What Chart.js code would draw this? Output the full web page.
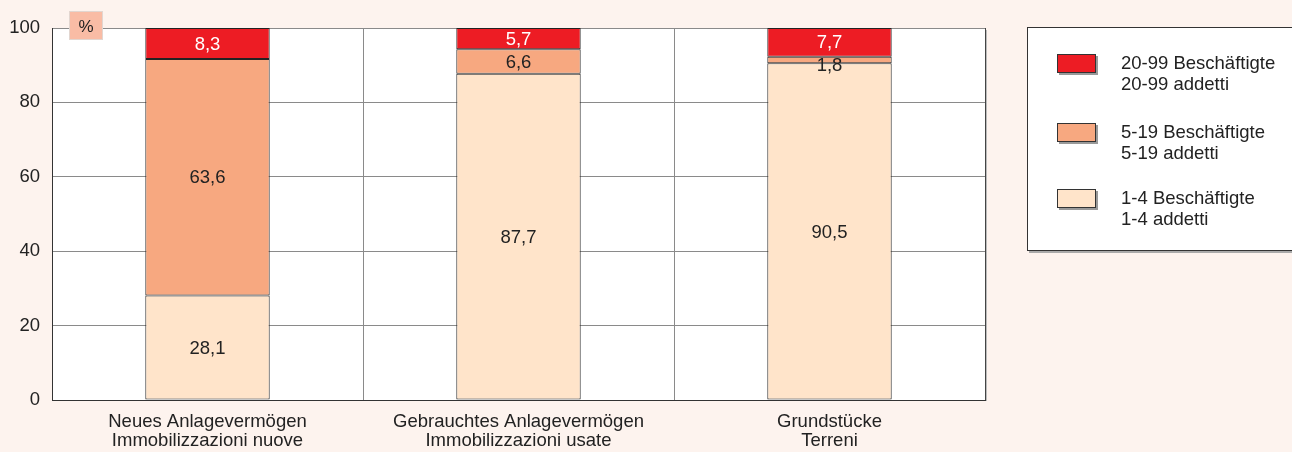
<!DOCTYPE html>
<html>
<head>
<meta charset="utf-8">
<script src="https://cdn.jsdelivr.net/npm/chart.js@4"></script>
<style>
  html, body { margin: 0; padding: 0; background: #fdf3ee; }
  #wrap { width: 1292px; height: 452px; }
</style>
</head>
<body>
<div id="wrap"><canvas id="chart"></canvas></div>
<script>
const categories = [
  ['Neues Anlagevermögen', 'Immobilizzazioni nuove'],
  ['Gebrauchtes Anlagevermögen', 'Immobilizzazioni usate'],
  ['Grundstücke', 'Terreni']
]
const small = [28.1, 87.7, 90.5]   // 1-4 addetti
const medium = [63.6, 6.6, 1.8]    // 5-19 addetti
const large = [8.3, 5.7, 7.7]      // 20-99 addetti
const seriesLabels = [
  ['1-4 Beschäftigte', '1-4 addetti'],
  ['5-19 Beschäftigte', '5-19 addetti'],
  ['20-99 Beschäftigte', '20-99 addetti']
]
const colors = ['#ffe4ca', '#f7a880', '#ed1c24']
const labelColors = ['#222', '#222', '#fff']

const FONT = '"Liberation Sans", Arial, sans-serif'
Chart.defaults.font.family = FONT
Chart.defaults.font.size = 18.5
Chart.defaults.color = '#222'

// white plot area
const plotBg = {
  id: 'plotBg',
  beforeDraw(chart) {
    const a = chart.chartArea
    chart.ctx.save()
    chart.ctx.fillStyle = '#fff'
    chart.ctx.fillRect(a.left, a.top, a.right - a.left, a.bottom - a.top)
    chart.ctx.restore()
  }
}

// value labels in the middle of each segment
const valueLabels = {
  id: 'valueLabels',
  afterDatasetsDraw(chart) {
    const ctx = chart.ctx
    ctx.save()
    ctx.font = '18.5px ' + FONT
    ctx.textAlign = 'center'
    ctx.textBaseline = 'middle'
    chart.data.datasets.forEach((ds, i) => {
      chart.getDatasetMeta(i).data.forEach((bar, j) => {
        const h = bar.base - bar.y
        let y = (bar.y + bar.base) / 2
        if (h < 14) y = bar.base + 2
        ctx.fillStyle = labelColors[i]
        ctx.fillText(String(ds.data[j]).replace('.', ','), bar.x, y + 1)
      })
    })
    ctx.restore()
  }
}

// "%" box and legend box
const extras = {
  id: 'extras',
  afterDraw(chart) {
    const ctx = chart.ctx
    const a = chart.chartArea
    ctx.save()
    // right border of the plot with a light shadow
    ctx.strokeStyle = '#bbb'
    ctx.beginPath(); ctx.moveTo(a.right + 1.5, a.top + 2); ctx.lineTo(a.right + 1.5, a.bottom + 1); ctx.stroke()
    ctx.strokeStyle = '#444'
    ctx.beginPath(); ctx.moveTo(a.right + 0.5, a.top); ctx.lineTo(a.right + 0.5, a.bottom); ctx.stroke()

    // percent box
    ctx.fillStyle = '#f9bca5'
    ctx.fillRect(69, 11, 34, 29)
    ctx.strokeStyle = '#e2d6d0'
    ctx.lineWidth = 1
    ctx.strokeRect(69.5, 11.5, 33, 28)
    ctx.fillStyle = '#222'
    ctx.font = '17px ' + FONT
    ctx.textAlign = 'center'
    ctx.textBaseline = 'middle'
    ctx.fillText('%', 86, 27)

    // legend box
    ctx.font = '18.5px ' + FONT
    ctx.fillStyle = '#aaa'
    ctx.fillRect(1029, 29, 270, 224)
    ctx.fillStyle = '#fff'
    ctx.fillRect(1027, 27, 270, 224)
    ctx.strokeStyle = '#333'
    ctx.strokeRect(1027.5, 27.5, 270, 223)

    const rows = [2, 1, 0]
    const ys = [54, 123, 189]
    rows.forEach((s, k) => {
      const y = ys[k]
      ctx.fillStyle = '#999'
      ctx.fillRect(1059, y + 2, 39, 19)
      ctx.fillStyle = colors[s]
      ctx.fillRect(1057, y, 39, 19)
      ctx.strokeStyle = '#333'
      ctx.strokeRect(1057.5, y + 0.5, 38, 18)
      ctx.fillStyle = '#222'
      ctx.textAlign = 'left'
      ctx.fillText(seriesLabels[s][0], 1121, y + 10)
      ctx.fillText(seriesLabels[s][1], 1121, y + 31)
    })
    ctx.restore()
  }
}

new Chart(document.getElementById('chart'), {
  type: 'bar',
  data: {
    labels: categories,
    datasets: [small, medium, large].map((d, i) => ({
      label: seriesLabels[i].join(' / '),
      data: d,
      backgroundColor: colors[i],
      borderColor: '#222',
      borderWidth: 1,
      borderSkipped: false,
      barPercentage: 0.4,
      categoryPercentage: 1
    }))
  },
  options: {
    responsive: true,
    maintainAspectRatio: false,
    animation: false,
    layout: { padding: { top: 28, right: 307, bottom: 0, left: 0 } },
    plugins: {
      legend: { display: false },
      tooltip: { enabled: false }
    },
    scales: {
      x: {
        stacked: true,
        afterFit: s => { s.height = 52 },
        grid: { color: '#8a8a8a', offset: true, drawTicks: false },
        border: { color: '#333', width: 1 },
        ticks: { padding: 12, color: '#222', font: { size: 18.5, lineHeight: 1.05 } }
      },
      y: {
        stacked: true,
        min: 0,
        max: 100,
        afterFit: s => { s.width = 52 },
        grid: { color: '#8a8a8a', drawTicks: false },
        border: { color: '#333', width: 1 },
        ticks: { stepSize: 20, padding: 12, color: '#222', font: { size: 18.5 } }
      }
    }
  },
  plugins: [plotBg, valueLabels, extras]
})
</script>
</body>
</html>
